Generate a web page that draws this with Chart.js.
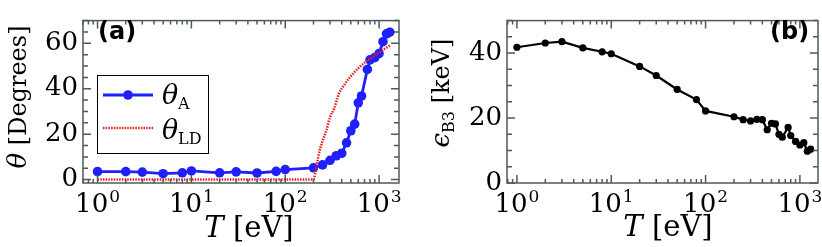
<!DOCTYPE html>
<html>
<head>
<meta charset="utf-8">
<script src="https://cdn.jsdelivr.net/npm/chart.js@4"></script>
<style>
html, body { margin: 0; padding: 0; background: #fff; }
#wrap { position: relative; width: 822px; height: 247px; }
#wrap canvas { position: absolute; top: 0; }
</style>
</head>
<body>
<div id="wrap">
<canvas id="chartA" width="411" height="247" style="left:0"></canvas>
<canvas id="chartB" width="411" height="247" style="left:411px"></canvas>
</div>
<script>
// temperatures in eV
let temps = [1, 2, 3, 5, 8, 10, 20, 30, 50, 80, 100, 200, 250, 300, 350, 400, 450, 500, 550, 600, 650, 750, 800, 900, 1000, 1100, 1200, 1300];
// panel (a): theta_A in degrees
let thetaA = [3.5, 3.5, 3.3, 2.6, 3.0, 3.8, 3.0, 3.4, 2.9, 3.6, 4.4, 5.2, 6.5, 8.5, 10.5, 11.6, 16.2, 21.5, 24.4, 33.8, 36.8, 48.5, 52.7, 53.7, 55.5, 60.7, 64.2, 64.9];
// panel (a): theta_LD curve
let tempsLD = [1, 200, 215, 232, 250, 275, 300, 330, 370, 430, 500, 600, 700, 800, 1000, 1300];
let thetaLD = [0, 0, 6, 12.6, 17, 21.8, 27.5, 31, 37.4, 42, 45.5, 49, 51.5, 53.2, 56, 59];
// panel (b): epsilon_B3 in keV
let epsB3 = [41.8, 43.1, 43.5, 41.6, 40.4, 39.8, 35.9, 33.1, 28.8, 25.7, 22.2, 20.4, 19.5, 19.1, 19.6, 19.5, 16.4, 18.4, 18.2, 15.0, 14.1, 17.1, 14.6, 12.8, 11.7, 12.4, 9.8, 10.4];

let xTickVals = [1, 10, 100, 1000];
let xTickExp = ["0", "1", "2", "3"];
let yTicksA = [0, 20, 40, 60];
let yTicksB = [0, 20, 40];

let frameColor = "#4f5a5a";
let serif = "DejaVu Serif";

function pts(xs, ys) {
    return xs.map((x, i) => ({ x: x, y: ys[i] }));
}

// text made of pieces with different fonts (italic symbol, sub/superscripts)
function richText(ctx, parts, x, y, rotate) {
    ctx.save();
    ctx.translate(x, y);
    if (rotate) ctx.rotate(-Math.PI / 2);
    ctx.fillStyle = "#000";
    ctx.textBaseline = "alphabetic";
    ctx.textAlign = "left";
    let total = 0;
    parts.forEach(p => {
        ctx.font = p.font;
        p.w = ctx.measureText(p.t).width + (p.gap || 0);
        total += p.w;
    });
    let cx = -total / 2;
    parts.forEach(p => {
        ctx.font = p.font;
        ctx.fillText(p.t, cx + (p.gap || 0), p.dy || 0);
        cx += p.w;
    });
    ctx.restore();
}

// frame with inward ticks on all four sides, plus 10^n labels
function drawFrame(chart) {
    let ctx = chart.ctx, a = chart.chartArea;
    let xs = chart.scales.x, ys = chart.scales.y;
    ctx.save();
    ctx.strokeStyle = frameColor;
    ctx.lineWidth = 1.5;
    ctx.strokeRect(a.left, a.top, a.right - a.left, a.bottom - a.top);
    ctx.beginPath();
    for (let d = 0.1; d <= 1000; d *= 10) {
        for (let m = 1; m <= 9; m++) {
            let v = d * m;
            if (v < xs.min || v > xs.max) continue;
            let px = xs.getPixelForValue(v);
            let len = m === 1 ? 8 : 4;
            ctx.moveTo(px, a.bottom); ctx.lineTo(px, a.bottom - len);
            ctx.moveTo(px, a.top); ctx.lineTo(px, a.top + len);
        }
    }
    for (let v = Math.ceil(ys.min / 5) * 5; v <= ys.max; v += 5) {
        let py = ys.getPixelForValue(v);
        let len = v % 20 === 0 ? 8 : 5;
        ctx.moveTo(a.left, py); ctx.lineTo(a.left + len, py);
        ctx.moveTo(a.right, py); ctx.lineTo(a.right - len, py);
    }
    ctx.stroke();
    ctx.restore();
    xTickVals.forEach((v, i) => {
        richText(ctx, [
            { t: "10", font: "26px " + serif },
            { t: xTickExp[i], font: "17px " + serif, dy: -10, gap: 1 },
        ], xs.getPixelForValue(v), a.bottom + 29);
    });
}

function xScale(min, max) {
    return {
        type: "logarithmic",
        min: min,
        max: max,
        afterBuildTicks: s => { s.ticks = xTickVals.map(v => ({ value: v })); },
        afterFit: s => { s.height = 64; },
        grid: { display: false, drawTicks: false },
        border: { display: false },
        ticks: { display: false },
    };
}

function yScale(min, max, ticks, width) {
    return {
        type: "linear",
        min: min,
        max: max,
        afterBuildTicks: s => { s.ticks = ticks.map(v => ({ value: v })); },
        afterFit: s => { s.width = width; },
        grid: { display: false, drawTicks: false },
        border: { display: false },
        ticks: {
            padding: 5,
            color: "#000",
            font: { family: serif, size: 26 },
        },
    };
}

let baseOptions = {
    responsive: false,
    animation: false,
    events: [],
    plugins: { legend: { display: false }, tooltip: { enabled: false } },
};

//panel (a)
new Chart(document.getElementById("chartA").getContext("2d"), {
    type: "line",
    data: {
        datasets: [{
            data: pts(tempsLD, thetaLD),
            borderColor: "#e02020",
            borderWidth: 2.5,
            borderDash: [1.5, 1.2],
            pointRadius: 0,
            cubicInterpolationMode: "monotone",
        }, {
            data: pts(temps, thetaA),
            borderColor: "#2020ff",
            backgroundColor: "#2020ff",
            borderWidth: 2.8,
            pointRadius: 4.8,
            pointBorderWidth: 0,
        }, ],
    },
    options: Object.assign({}, baseOptions, {
        layout: { padding: { left: 0, right: 12, top: 1, bottom: 0 } },
        scales: { x: xScale(0.715, 1630), y: yScale(-1.5, 70, yTicksA, 83) },
    }),
    plugins: [{
        id: "decorA",
        afterDraw: chart => {
            let ctx = chart.ctx;
            drawFrame(chart);
            richText(ctx, [
                { t: "θ", font: "italic 26px " + serif },
                { t: " [Degrees]", font: "24px " + serif },
            ], 26, 97, true);
            richText(ctx, [
                { t: "T", font: "italic 29px " + serif },
                { t: " [eV]", font: "29px " + serif },
            ], 249, 237);
            ctx.save();
            ctx.font = "bold 24px DejaVu Sans";
            ctx.fillStyle = "#000";
            ctx.fillText("(a)", 98, 39);
            // legend
            ctx.fillStyle = "#fff";
            ctx.fillRect(97, 75, 111, 78);
            ctx.strokeStyle = "#000";
            ctx.lineWidth = 1;
            ctx.strokeRect(97.5, 75.5, 111, 78);
            ctx.strokeStyle = "#2020ff";
            ctx.lineWidth = 2.8;
            ctx.beginPath(); ctx.moveTo(103, 95); ctx.lineTo(153, 95); ctx.stroke();
            ctx.fillStyle = "#2020ff";
            ctx.beginPath(); ctx.arc(128, 95, 4.8, 0, 2 * Math.PI); ctx.fill();
            ctx.strokeStyle = "#e02020";
            ctx.lineWidth = 2.5;
            ctx.setLineDash([1.5, 1.2]);
            ctx.beginPath(); ctx.moveTo(103, 128); ctx.lineTo(153, 128); ctx.stroke();
            ctx.restore();
            ctx.save();
            ctx.textAlign = "left";
            ctx.fillStyle = "#000";
            ctx.font = "italic 27px " + serif;
            ctx.fillText("θ", 162, 104);
            ctx.fillText("θ", 162, 139);
            ctx.font = "16px " + serif;
            ctx.fillText("A", 178, 109);
            ctx.fillText("LD", 178, 144);
            ctx.restore();
        },
    }],
});

//panel (b)
new Chart(document.getElementById("chartB").getContext("2d"), {
    type: "line",
    data: {
        datasets: [{
            data: pts(temps, epsB3),
            borderColor: "#000",
            backgroundColor: "#000",
            borderWidth: 2.2,
            pointRadius: 3.6,
            pointBorderWidth: 0,
        }, ],
    },
    options: Object.assign({}, baseOptions, {
        layout: { padding: { left: 0, right: 1, top: 1, bottom: 0 } },
        scales: { x: xScale(0.785, 1556), y: yScale(0, 50, yTicksB, 96) },
    }),
    plugins: [{
        id: "decorB",
        afterDraw: chart => {
            let ctx = chart.ctx;
            drawFrame(chart);
            richText(ctx, [
                { t: "ϵ", font: "italic 26px " + serif },
                { t: "B3", font: "16px " + serif, dy: 5 },
                { t: " [keV]", font: "24px " + serif },
            ], 38, 93, true);
            richText(ctx, [
                { t: "T", font: "italic 29px " + serif },
                { t: " [eV]", font: "29px " + serif },
            ], 257, 236);
            ctx.save();
            ctx.font = "bold 24px DejaVu Sans";
            ctx.fillStyle = "#000";
            ctx.fillText("(b)", 359, 39);
            ctx.restore();
        },
    }],
});
</script>
</body>
</html>
